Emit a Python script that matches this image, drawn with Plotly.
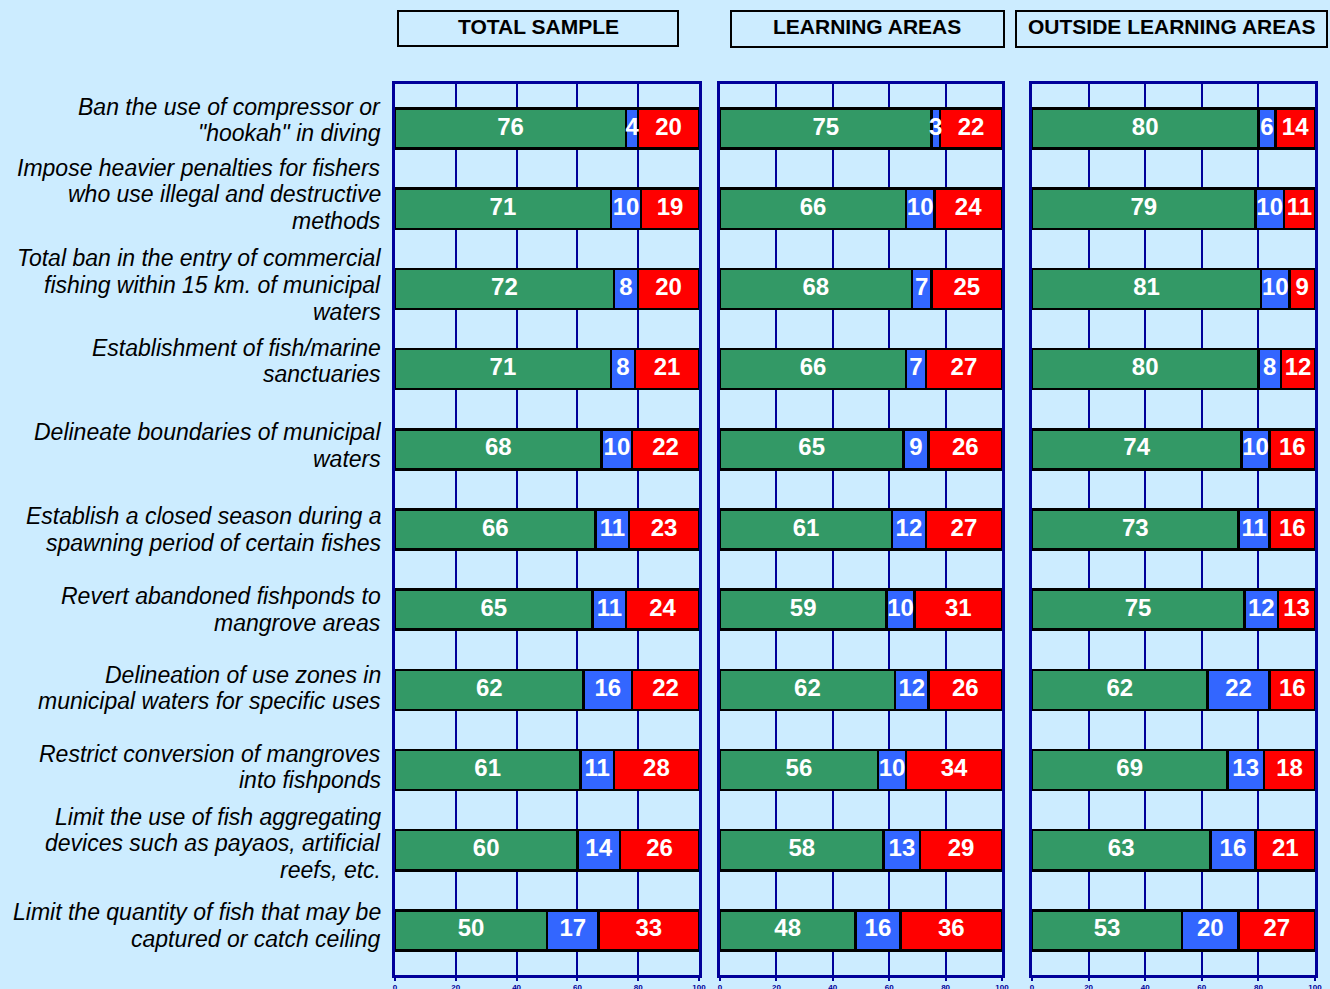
import plotly.graph_objects as go

categories = [
    "Ban the use of compressor or<br>\"hookah\" in diving",
    "Impose heavier penalties for fishers<br>who use illegal and destructive<br>methods",
    "Total ban in the entry of commercial<br>fishing within 15 km. of municipal<br>waters",
    "Establishment of fish/marine<br>sanctuaries",
    "Delineate boundaries of municipal<br>waters",
    "Establish a closed season during a<br>spawning period of certain fishes",
    "Revert abandoned fishponds to<br>mangrove areas",
    "Delineation of use zones in<br>municipal waters for specific uses",
    "Restrict conversion of mangroves<br>into fishponds",
    "Limit the use of fish aggregating<br>devices such as payaos, artificial<br>reefs, etc.",
    "Limit the quantity of fish that may be<br>captured or catch ceiling",
]

panel_titles = ["TOTAL SAMPLE", "LEARNING AREAS", "OUTSIDE LEARNING AREAS"]

total_green = [76, 71, 72, 71, 68, 66, 65, 62, 61, 60, 50]
total_blue = [4, 10, 8, 8, 10, 11, 11, 16, 11, 14, 17]
total_red = [20, 19, 20, 21, 22, 23, 24, 22, 28, 26, 33]

learning_green = [75, 66, 68, 66, 65, 61, 59, 62, 56, 58, 48]
learning_blue = [3, 10, 7, 7, 9, 12, 10, 12, 10, 13, 16]
learning_red = [22, 24, 25, 27, 26, 27, 31, 26, 34, 29, 36]

outside_green = [80, 79, 81, 80, 74, 73, 75, 62, 69, 63, 53]
outside_blue = [6, 10, 10, 8, 10, 11, 12, 22, 13, 16, 20]
outside_red = [14, 11, 9, 12, 16, 16, 13, 16, 18, 21, 27]

x_ticks = [0, 20, 40, 60, 80, 100]

# ---- styling / layout ----
W, H = 1330, 989
BG = "#CCECFF"
GRID = "#000099"
COLORS = ["#339966", "#3366FF", "#FF0000"]
FONT = "Liberation Sans, Arial, sans-serif"

def px(x):
    return x / W

def py(y):
    return 1 - y / H

panel_px = [(395, 699), (720, 1002), (1032, 1315)]
title_boxes = [(398, 678, 11, 46), (731, 1004, 11, 47), (1016, 1327, 11, 47)]
plot_top, plot_bottom = 84, 975
label_offset = [-8.5, -14.5, -4, -8, -4, 0, 0, -2, -3, -7, -5]
LINE_PX = 26.7

panels = [
    (total_green, total_blue, total_red),
    (learning_green, learning_blue, learning_red),
    (outside_green, outside_blue, outside_red),
]

fig = go.Figure()
for i, series in enumerate(panels):
    sfx = "" if i == 0 else str(i + 1)
    for vals, col in zip(series, COLORS):
        fig.add_trace(go.Bar(
            y=categories, x=vals, orientation="h",
            xaxis="x" + sfx, yaxis="y" + sfx,
            width=0.5,
            marker=dict(color=col, line=dict(color="black", width=2.5)),
            showlegend=False, hoverinfo="x+y",
        ))
    # value labels on top of all bars, centred in each segment
    base = [0] * len(categories)
    for vals in series:
        mids = [b + v / 2 for b, v in zip(base, vals)]
        base = [b + v for b, v in zip(base, vals)]
        fig.add_trace(go.Scatter(
            y=categories, x=mids, mode="text", text=[str(v) for v in vals],
            textposition="middle center",
            textfont=dict(color="white", size=24, family=FONT, weight="bold"),
            xaxis="x" + sfx, yaxis="y" + sfx, cliponaxis=False,
            showlegend=False, hoverinfo="skip",
        ))

layout = dict(
    width=W, height=H,
    margin=dict(l=0, r=0, t=0, b=0, autoexpand=False),
    paper_bgcolor=BG, plot_bgcolor=BG,
    barmode="stack",
    font=dict(family=FONT),
)

for i, (x0, x1) in enumerate(panel_px):
    sfx = "" if i == 0 else str(i + 1)
    layout["xaxis" + sfx] = dict(
        domain=[px(x0), px(x1)], range=[0, 100],
        tickvals=x_ticks, showgrid=True, gridcolor=GRID, gridwidth=2,
        showline=True, linecolor=GRID, linewidth=2.5, mirror=True,
        ticks="outside", ticklen=3, tickwidth=2, tickcolor=GRID,
        tickfont=dict(size=8, color=GRID, family=FONT, weight="bold"),
        zeroline=False, anchor="y" + sfx, fixedrange=True,
    )
    layout["yaxis" + sfx] = dict(
        domain=[py(plot_bottom), py(plot_top)],
        showticklabels=False, showgrid=False, zeroline=False,
        showline=True, linecolor=GRID, linewidth=2.5, mirror=True,
        ticks="", categoryorder="array", categoryarray=categories,
        autorange="reversed", anchor="x" + sfx, fixedrange=True,
    )

fig.update_layout(**layout)

shapes = []
annotations = []
for (bx0, bx1, by0, by1), t in zip(title_boxes, panel_titles):
    shapes.append(dict(type="rect", xref="paper", yref="paper",
                       x0=px(bx0), x1=px(bx1), y0=py(by1), y1=py(by0),
                       line=dict(color="black", width=2), fillcolor=BG))
    annotations.append(dict(text=t, xref="paper", yref="paper",
                            x=px((bx0 + bx1) / 2), y=py(26),
                            xanchor="center", yanchor="middle", showarrow=False,
                            font=dict(size=21, color="black", family=FONT, weight="bold")))

for cat, off in zip(categories, label_offset):
    lines = cat.split("<br>")
    n = len(lines)
    for j, line in enumerate(lines):
        dy = off + (j - (n - 1) / 2) * LINE_PX
        annotations.append(dict(text="<i>" + line + "</i>", xref="paper", yref="y",
                                x=px(383), y=cat, yshift=-dy,
                                xanchor="right", yanchor="middle", align="right",
                                showarrow=False,
                                font=dict(size=23, color="black", family=FONT)))

fig.update_layout(shapes=shapes, annotations=annotations)
fig.write_html("out.html",
               config={"displayModeBar": False},
               post_script="document.body.style.margin='0';document.body.style.overflow='hidden';")
